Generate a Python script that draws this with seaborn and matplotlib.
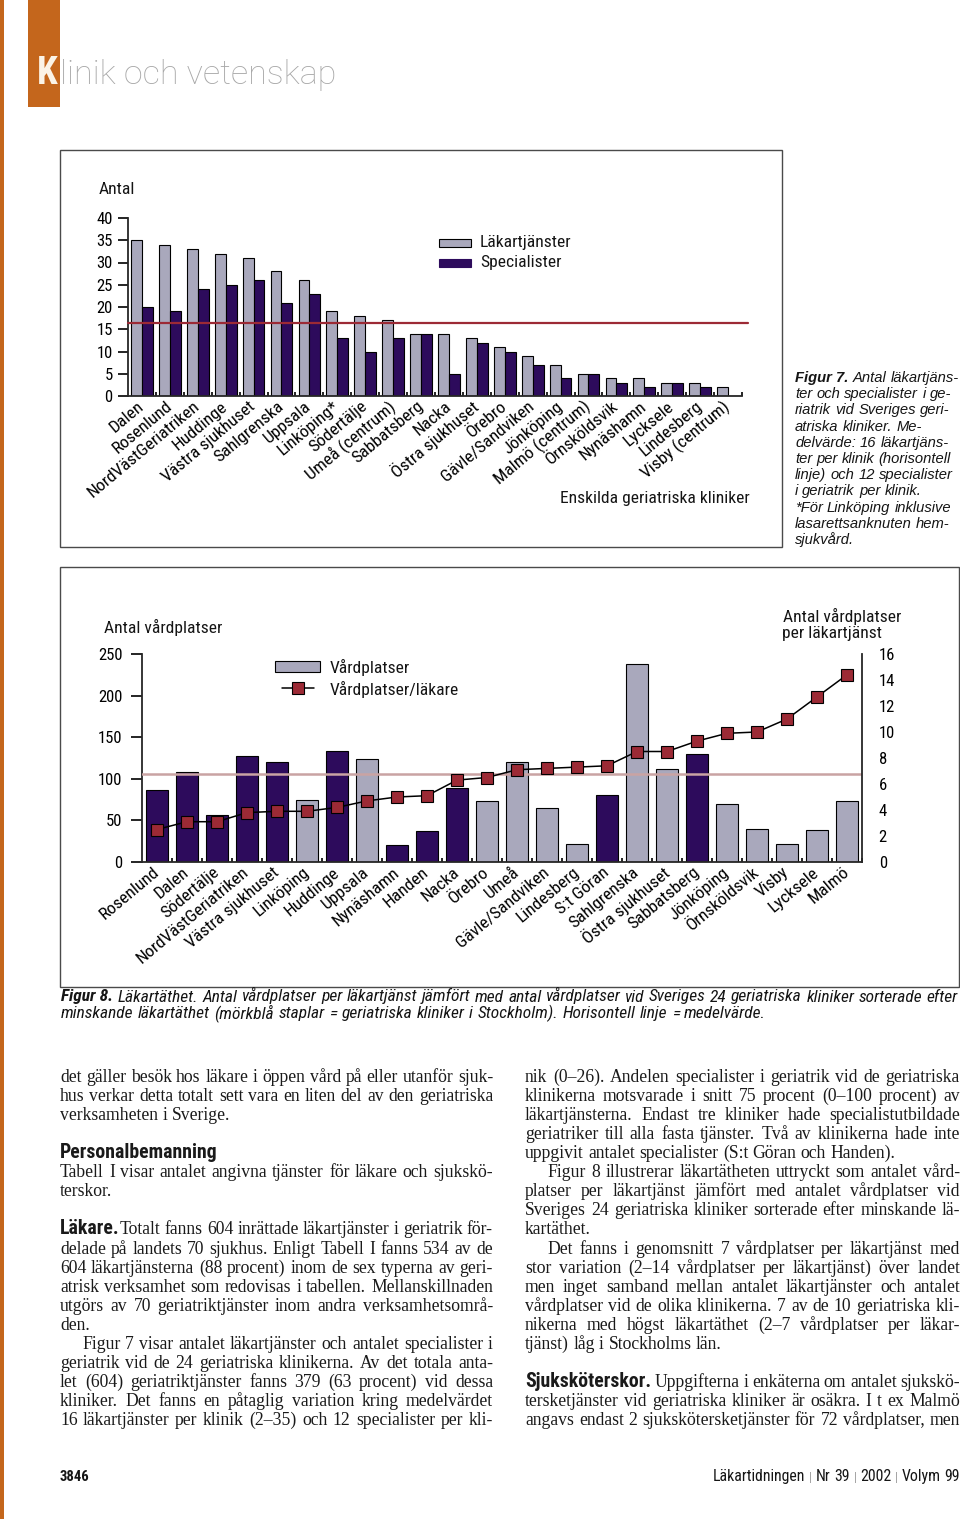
import numpy as np
import pandas as pd
import matplotlib
matplotlib.use("Agg")
import matplotlib.pyplot as plt
from matplotlib import font_manager as fm
from matplotlib.patches import Rectangle
from matplotlib.lines import Line2D
import seaborn as sns

# Figur 7: läkartjänster och specialister per klinik
kliniker7 = ["Dalen", "Rosenlund", "NordVästGeriatriken", "Huddinge", "Västra sjukhuset",
             "Sahlgrenska", "Uppsala", "Linköping*", "Södertälje", "Umeå (centrum)",
             "Sabbatsberg", "Nacka", "Östra sjukhuset", "Örebro", "Gävle/Sandviken",
             "Jönköping", "Malmö (centrum)", "Örnsköldsvik", "Nynäshamn", "Lycksele",
             "Lindesberg", "Visby (centrum)"]
lakartjanster = [35, 34, 33, 32, 31, 28, 26, 19, 18, 17, 14, 14, 13, 11, 9, 7, 5, 4, 4, 3, 3, 2]
specialister = [20, 19, 24, 25, 26, 21, 23, 13, 10, 13, 14, 5, 12, 10, 7, 4, 5, 3, 2, 3, 2, 0]
medel7 = 16.3

# Figur 8: vårdplatser och vårdplatser per läkartjänst
kliniker8 = ["Rosenlund", "Dalen", "Södertälje", "NordVästGeriatriken", "Västra sjukhuset",
             "Linköping", "Huddinge", "Uppsala", "Nynäshamn", "Handen", "Nacka", "Örebro",
             "Umeå", "Gävle/Sandviken", "Lindesberg", "S:t Göran", "Sahlgrenska",
             "Östra sjukhuset", "Sabbatsberg", "Jönköping", "Örnsköldsvik", "Visby",
             "Lycksele", "Malmö"]
vardplatser = [87, 108, 56, 128, 120, 75, 134, 124, 20, 37, 89, 73, 120, 65, 22, 81, 238,
               112, 130, 70, 40, 22, 38, 73]
per_lakare = [2.5, 3.1, 3.1, 3.8, 3.9, 3.9, 4.2, 4.7, 5.0, 5.1, 6.3, 6.5, 7.1, 7.2, 7.3, 7.4,
              8.5, 8.5, 9.3, 9.9, 10.0, 11.0, 12.7, 14.4]
stockholm = [1, 1, 1, 1, 1, 0, 1, 0, 1, 1, 1, 0, 0, 0, 0, 1, 0, 0, 1, 0, 0, 0, 0, 0]
medel8 = 6.8

W, H = 960, 1519
GRAY = "#a9a8bc"
DARK = "#2d0b5c"
RED = "#9c2a35"
ORANGE = "#c4661c"
INK = "#151515"

sns.set_theme(style="ticks")

# pick a condensed sans if one is installed, otherwise Roboto with smaller sizes
cond = {}
for f in fm.fontManager.ttflist:
    if "condensed" in str(f.stretch) or "Narrow" in f.name or "Condensed" in f.name:
        cond.setdefault(f.name, f.stretch)
NARROW, STRETCH, FS = "Roboto", "normal", 0.86
for name, scale in [("Liberation Sans Narrow", 1.0), ("Roboto Condensed", 1.0),
                    ("Open Sans Condensed", 1.0), ("Noto Sans Condensed", 1.0),
                    ("Noto Sans", 0.95), ("DejaVu Sans", 0.86)]:
    if name in cond:
        NARROW, STRETCH, FS = name, cond[name], scale
        break

plt.rcParams["font.family"] = [NARROW, "DejaVu Sans"]
plt.rcParams["font.stretch"] = STRETCH
plt.rcParams["axes.linewidth"] = 1.3
plt.rcParams["text.color"] = INK
plt.rcParams["xtick.color"] = "black"
plt.rcParams["ytick.color"] = "black"

LAB = 12.6 * FS
TICK = 12.0 * FS

fig = plt.figure(figsize=(W / 100, H / 100), dpi=100)
fig.patch.set_facecolor("white")
renderer = fig.canvas.get_renderer()


def add_ax(x0, y0, x1, y1):
    return fig.add_axes([x0 / W, 1 - y1 / H, (x1 - x0) / W, (y1 - y0) / H])


def rect(x0, y0, x1, y1, **kw):
    fig.add_artist(Rectangle((x0 / W, 1 - y1 / H), (x1 - x0) / W, (y1 - y0) / H,
                             transform=fig.transFigure, **kw))


def txt(x, y, s, **kw):
    return fig.text(x / W, 1 - y / H, s, **kw)


def space_of(props):
    a = txt(0, 0, "n n", **props)
    b = txt(0, 0, "nn", **props)
    w = a.get_window_extent(renderer).width - b.get_window_extent(renderer).width
    a.remove()
    b.remove()
    return w


def set_line(tokens, x0, x1, y, justify=False, gap=4.0, align="left"):
    # tokens: list of words, each word a list of (text, props) runs
    placed = []
    total = 0.0
    for word in tokens:
        runs = []
        for s, p in word:
            t = txt(0, y, s, va="baseline", **p)
            w = t.get_window_extent(renderer).width
            runs.append((t, w))
            total += w
        placed.append(runs)
    n = len(placed)
    g = (x1 - x0 - total) / (n - 1) if (justify and n > 1) else gap
    x = x0 if align == "left" else x1 - total - g * (n - 1)
    for runs in placed:
        for t, w in runs:
            t.set_position((x / W, 1 - y / H))
            x += w
        x += g


# ---------- header ----------
rect(0, 0, 4, H, color=ORANGE, lw=0)
rect(28, 0, 60, 107, color=ORANGE, lw=0)
txt(58, 84, "K", ha="right", va="baseline", color="#fbf3e6", fontsize=27 * FS,
    fontweight="bold")
txt(60, 84, "linik och vetenskap", va="baseline", color="#a8a8a8", fontsize=24.5,
    family=["Roboto", "DejaVu Sans"], fontweight="light")

# ---------- Figur 7 ----------
rect(60, 150, 782, 547, fill=False, ec="#4a4a4a", lw=1)
ax7 = add_ax(128, 218, 742, 396)
ax7.patch.set_visible(False)
df7 = pd.DataFrame({
    "Klinik": kliniker7 * 2,
    "Antal": lakartjanster + specialister,
    "Typ": ["Läkartjänster"] * len(kliniker7) + ["Specialister"] * len(kliniker7),
})
sns.barplot(df7, x="Klinik", y="Antal", hue="Typ",
            palette={"Läkartjänster": GRAY, "Specialister": DARK},
            width=0.78, saturation=1, edgecolor="black", linewidth=0.8,
            legend=False, ax=ax7)
ax7.axhline(medel7, xmin=0, xmax=1.01, color=RED, lw=1.6, clip_on=False, zorder=5)
ax7.set_xlim(-0.5, len(kliniker7) - 0.5)
ax7.set_ylim(0, 40)
ax7.set_yticks(range(0, 41, 5))
ax7.set_xlabel("")
ax7.set_ylabel("")
sns.despine(ax=ax7)
ax7.tick_params(axis="y", length=7, width=1.2, pad=4, labelsize=TICK)
ax7.tick_params(axis="x", length=0, pad=6, labelsize=LAB)
ax7.set_xticks(np.arange(len(kliniker7)) + 0.5, minor=True)
ax7.tick_params(axis="x", which="minor", direction="in", length=3, width=1.2)
for lab in ax7.get_xticklabels():
    lab.set_rotation(40)
    lab.set_ha("right")
    lab.set_va("center")
    lab.set_rotation_mode("anchor")

txt(99, 190, "Antal", va="center", fontsize=LAB)
txt(560, 498, "Enskilda geriatriska kliniker", va="center", fontsize=LAB)
rect(439, 239, 471, 247, fc=GRAY, ec="black", lw=0.8)
rect(439, 259, 471, 267, fc=DARK, ec=DARK, lw=0.8)
txt(480, 243, "Läkartjänster", va="center", fontsize=LAB)
txt(480, 262, "Specialister", va="center", fontsize=LAB)

CAP = dict(family=["Liberation Sans", "DejaVu Sans"], fontsize=10.6, style="italic")
CAPB = dict(CAP, fontweight="bold")
cap7 = ["Antal läkartjäns-", "ter och specialister i ge-", "riatrik vid Sveriges geri-",
        "atriska kliniker. Me-", "delvärde: 16 läkartjäns-", "ter per klinik (horisontell",
        "linje) och 12 specialister", "i geriatrik per klinik.", "*För Linköping inklusive",
        "lasarettsanknuten hem-", "sjukvård."]
sp_cap = space_of(CAP)
for i, line in enumerate(cap7):
    toks = [[(w, CAP)] for w in line.split()]
    if i == 0:
        toks.insert(0, [("Figur 7.", CAPB)])
    set_line(toks, 795, 960, 382 + 16.2 * i, gap=sp_cap)

# ---------- Figur 8 ----------
rect(60, 567, 959, 987, fill=False, ec="#4a4a4a", lw=1)
ax8 = add_ax(142, 654, 862, 862)
ax8.patch.set_visible(False)
df8 = pd.DataFrame({
    "Klinik": kliniker8,
    "Vårdplatser": vardplatser,
    "Grupp": ["Stockholm" if s else "Övriga" for s in stockholm],
})
sns.barplot(df8, x="Klinik", y="Vårdplatser", hue="Grupp",
            palette={"Stockholm": DARK, "Övriga": GRAY}, dodge=False,
            width=0.73, saturation=1, edgecolor="black", linewidth=0.8,
            legend=False, ax=ax8)
ax2 = ax8.twinx()
ax2.axhline(medel8, color="#c9a3a3", lw=1.8, zorder=1)
sns.pointplot(x=kliniker8, y=per_lakare, ax=ax2, color="black", markers="s",
              linestyles="-", errorbar=None, linewidth=1.1, markersize=8,
              markerfacecolor=RED, markeredgecolor="black", markeredgewidth=0.8)
ax8.set_xlim(-0.5, len(kliniker8) - 0.5)
ax8.set_ylim(0, 250)
ax8.set_yticks(range(0, 251, 50))
ax2.set_ylim(0, 16)
ax2.set_yticks(range(0, 17, 2))
for a in (ax8, ax2):
    a.set_xlabel("")
    a.set_ylabel("")
sns.despine(ax=ax8)
sns.despine(ax=ax2, left=True, right=False, bottom=True)
ax8.tick_params(axis="y", length=8, width=1.2, pad=6, labelsize=TICK)
ax2.tick_params(axis="y", length=8, width=1.2, pad=4, labelsize=TICK)
ax8.tick_params(axis="x", length=0, pad=6, labelsize=LAB)
ax8.set_xticks(np.arange(len(kliniker8)) + 0.5, minor=True)
ax8.tick_params(axis="x", which="minor", direction="in", length=3, width=1.2)
for lab in ax8.get_xticklabels():
    lab.set_rotation(40)
    lab.set_ha("right")
    lab.set_va("center")
    lab.set_rotation_mode("anchor")

txt(104, 627, "Antal vårdplatser", va="center", fontsize=LAB)
txt(783, 616, "Antal vårdplatser", va="center", fontsize=LAB)
txt(782, 633, "per läkartjänst", va="center", fontsize=LAB)
rect(275, 661, 320, 672, fc=GRAY, ec="black", lw=0.8)
fig.add_artist(Line2D([282 / W, 314 / W], [1 - 688 / H] * 2, transform=fig.transFigure,
                      color="black", lw=1.1))
fig.add_artist(Line2D([298 / W], [1 - 688 / H], transform=fig.transFigure, marker="s",
                      ms=8, mfc=RED, mec="black", mew=0.8, ls="none"))
txt(330, 667, "Vårdplatser", va="center", fontsize=LAB)
txt(330, 689, "Vårdplatser/läkare", va="center", fontsize=LAB)

CAP8 = dict(fontsize=12.5 * FS, style="italic")
CAP8B = dict(CAP8, fontweight="bold")
sp8 = space_of(CAP8)
l1 = ("Läkartäthet. Antal vårdplatser per läkartjänst jämfört med antal vårdplatser vid "
      "Sveriges 24 geriatriska kliniker sorterade efter")
l2 = ("minskande läkartäthet (mörkblå staplar = geriatriska kliniker i Stockholm). "
      "Horisontell linje = medelvärde.")
set_line([[("Figur 8.", CAP8B)]] + [[(w, CAP8)] for w in l1.split()], 61, 958, 1001.5,
         justify=True)
set_line([[(w, CAP8)] for w in l2.split()], 61, 958, 1018, gap=sp8 * 1.1)

# ---------- brödtext ----------
SERIF = dict(family=["Liberation Serif", "DejaVu Serif"], fontsize=12.7, color="#1a1a1a")
HEAD = dict(fontsize=14.2 * FS, fontweight="bold", color="#1a1a1a")
sp_serif = space_of(SERIF)
sp_head = space_of(HEAD)

left_col = [
    ("", "det gäller besök hos läkare i öppen vård på eller utanför sjuk-", True),
    ("", "hus verkar detta totalt sett vara en liten del av den geriatriska", True),
    ("", "verksamheten i Sverige.", False),
    None,
    ("H", "Personalbemanning", False),
    ("", "Tabell I visar antalet angivna tjänster för läkare och sjukskö-", True),
    ("", "terskor.", False),
    None,
    ("Läkare.", "Totalt fanns 604 inrättade läkartjänster i geriatrik för-", True),
    ("", "delade på landets 70 sjukhus. Enligt Tabell I fanns 534 av de", True),
    ("", "604 läkartjänsterna (88 procent) inom de sex typerna av geri-", True),
    ("", "atrisk verksamhet som redovisas i tabellen. Mellanskillnaden", True),
    ("", "utgörs av 70 geriatriktjänster inom andra verksamhetsområ-", True),
    ("", "den.", False),
    (">", "Figur 7 visar antalet läkartjänster och antalet specialister i", True),
    ("", "geriatrik vid de 24 geriatriska klinikerna. Av det totala anta-", True),
    ("", "let (604) geriatriktjänster fanns 379 (63 procent) vid dessa", True),
    ("", "kliniker.  Det fanns en påtaglig variation kring medelvärdet", True),
    ("", "16 läkartjänster per klinik (2–35) och 12 specialister per kli-", True),
]
right_col = [
    ("", "nik (0–26). Andelen specialister i geriatrik vid de geriatriska", True),
    ("", "klinikerna motsvarade i snitt 75 procent (0–100 procent) av", True),
    ("", "läkartjänsterna. Endast tre kliniker hade specialistutbildade", True),
    ("", "geriatriker till alla fasta tjänster. Två av klinikerna hade inte", True),
    ("", "uppgivit antalet specialister (S:t Göran och Handen).", False),
    (">", "Figur 8 illustrerar läkartätheten uttryckt som antalet vård-", True),
    ("", "platser per läkartjänst jämfört med antalet vårdplatser vid", True),
    ("", "Sveriges 24 geriatriska kliniker sorterade efter minskande lä-", True),
    ("", "kartäthet.", False),
    (">", "Det fanns i genomsnitt 7 vårdplatser per läkartjänst med", True),
    ("", "stor variation (2–14 vårdplatser per läkartjänst) över landet", True),
    ("", "men inget samband mellan antalet läkartjänster och antalet", True),
    ("", "vårdplatser vid de olika klinikerna. 7 av de 10 geriatriska kli-", True),
    ("", "nikerna med högst läkartäthet (2–7 vårdplatser per läkar-", True),
    ("", "tjänst) låg i Stockholms län.", False),
    None,
    ("Sjuksköterskor.", " Uppgifterna i enkäterna om antalet sjukskö-", True),
    ("", "tersketjänster vid geriatriska kliniker är osäkra. I t ex Malmö", True),
    ("", "angavs endast 2 sjukskötersketjänster för 72 vårdplatser, men", True),
]


def body(col, x0, x1):
    for i, row in enumerate(col):
        if row is None:
            continue
        lead, text, just = row
        y = 1082 + 19.06 * i
        if lead == "H":
            set_line([[(w, HEAD)] for w in text.split()], x0, x1, y, gap=sp_head)
            continue
        indent = 22 if lead == ">" else 0
        toks = [[(w, SERIF)] for w in text.split()]
        if lead not in ("", ">"):
            if text.startswith(" "):
                toks.insert(0, [(lead, HEAD)])
            else:
                toks[0].insert(0, (lead, HEAD))
        set_line(toks, x0 + indent, x1, y, justify=just, gap=sp_serif)


body(left_col, 60, 493)
body(right_col, 525, 960)

# ---------- sidfot ----------
txt(60, 1481, "3846", va="baseline", fontsize=10.5 * FS, fontweight="bold")
FOOT = dict(fontsize=11.4 * FS)
SEP = dict(fontsize=9 * FS, color="#9a9a9a")
sp_f = space_of(FOOT)
set_line([[("Läkartidningen", FOOT)], [("|", SEP)], [("Nr", FOOT)], [("39", FOOT)],
          [("|", SEP)], [("2002", FOOT)], [("|", SEP)], [("Volym", FOOT)], [("99", FOOT)]],
         700, 960, 1481, gap=sp_f, align="right")

fig.savefig("out.png", dpi=100)
